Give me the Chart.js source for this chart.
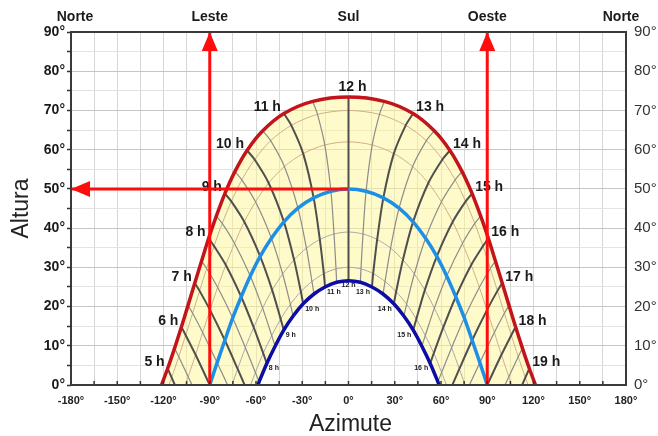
<!DOCTYPE html>
<html>
<head>
<meta charset="utf-8">
<script src="https://cdn.jsdelivr.net/npm/chart.js@4.4.1/dist/chart.umd.min.js"></script>
<style>
html, body { margin: 0; padding: 0; background: #fff; }
</style>
</head>
<body>
<canvas id="sunChart" width="658" height="436"></canvas>
<script>
// Horas de meia em meia hora (5 h a 19 h)
const hours = [5, 5.5, 6, 6.5, 7, 7.5, 8, 8.5, 9, 9.5, 10, 10.5, 11, 11.5, 12,
    12.5, 13, 13.5, 14, 14.5, 15, 15.5, 16, 16.5, 17, 17.5, 18, 18.5, 19];

// Azimute / altura do sol em cada hora, dia 21 de cada mes
const junAz = [-117.3, -112.8, -108.4, -104.1, -99.7, -95.3, -90.7, -85.7, -80.2, -73.7, -65.8, -55.6, -41.9, -23.2, 0,
    23.2, 41.9, 55.6, 65.8, 73.7, 80.2, 85.7, 90.7, 95.3, 99.7, 104.1, 108.4, 112.8, 117.3];
const junAlt = [4.2, 9.4, 14.8, 20.3, 26.0, 31.6, 37.4, 43.1, 48.8, 54.4, 59.8, 64.8, 69.2, 72.3, 73.4,
    72.3, 69.2, 64.8, 59.8, 54.4, 48.8, 43.1, 37.4, 31.6, 26.0, 20.3, 14.8, 9.4, 4.2];

const maiAz = [-114.7, -110.1, -105.6, -101.1, -96.6, -92.0, -87.2, -81.9, -76.0, -69.2, -60.9, -50.5, -37.1, -20.1, 0,
    20.1, 37.1, 50.5, 60.9, 69.2, 76.0, 81.9, 87.2, 92.0, 96.6, 101.1, 105.6, 110.1, 114.7];
const maiAlt = [1.9, 7.2, 12.7, 18.3, 24.0, 29.7, 35.4, 41.2, 46.8, 52.3, 57.5, 62.3, 66.2, 69.0, 70.0,
    69.0, 66.2, 62.3, 57.5, 52.3, 46.8, 41.2, 35.4, 29.7, 24.0, 18.3, 12.7, 7.2, 1.9];

const abrAz = [-108.8, -104.0, -99.2, -94.6, -89.8, -84.9, -79.6, -73.9, -67.6, -60.3, -51.8, -41.6, -29.4, -15.4, 0,
    15.4, 29.4, 41.6, 51.8, 60.3, 67.6, 73.9, 79.6, 84.9, 89.8, 94.6, 99.2, 104.0, 108.8];
const abrAlt = [-3.5, 2.1, 7.7, 13.4, 19.1, 24.9, 30.6, 36.1, 41.6, 46.7, 51.5, 55.7, 59.0, 61.2, 62.0,
    61.2, 59.0, 55.7, 51.5, 46.7, 41.6, 36.1, 30.6, 24.9, 19.1, 13.4, 7.7, 2.1, -3.5];

const marAz = [null, -94.8, -90.0, -85.2, -80.2, -75.1, -69.6, -63.7, -57.3, -50.0, -41.9, -32.8, -22.6, -11.4, 0,
    11.4, 22.6, 32.8, 41.9, 50.0, 57.3, 63.7, 69.6, 75.1, 80.2, 85.2, 90.0, 94.8, null];
const marAlt = [null, -5.7, 0.0, 5.7, 11.4, 17.1, 22.5, 27.8, 32.8, 37.4, 41.6, 45.1, 47.7, 49.4, 50.0,
    49.4, 47.7, 45.1, 41.6, 37.4, 32.8, 27.8, 22.5, 17.1, 11.4, 5.7, 0.0, -5.7, null];

const fevAz = [null, null, null, -76.8, -71.9, -66.9, -61.5, -55.7, -49.5, -42.7, -35.3, -27.3, -18.6, -9.4, 0,
    9.4, 18.6, 27.3, 35.3, 42.7, 49.5, 55.7, 61.5, 66.9, 71.9, 76.8, null, null, null];
const fevAlt = [null, null, null, -1.4, 4.1, 9.5, 14.7, 19.6, 24.2, 28.3, 31.9, 34.9, 37.1, 38.5, 39.0,
    38.5, 37.1, 34.9, 31.9, 28.3, 24.2, 19.6, 14.7, 9.5, 4.1, -1.4, null, null, null];

const janAz = [null, null, null, null, -65.3, -60.4, -55.3, -49.8, -44.0, -37.7, -30.9, -23.7, -16.0, -8.1, 0,
    8.1, 16.0, 23.7, 30.9, 37.7, 44.0, 49.8, 55.3, 60.4, 65.3, null, null, null, null];
const janAlt = [null, null, null, null, -1.9, 3.2, 8.1, 12.6, 16.8, 20.6, 23.8, 26.4, 28.4, 29.6, 30.0,
    29.6, 28.4, 26.4, 23.8, 20.6, 16.8, 12.6, 8.1, 3.2, -1.9, null, null, null, null];

const dezAz = [null, null, null, null, null, -58.0, -53.0, -47.6, -42.0, -35.9, -29.4, -22.4, -15.2, -7.7, 0,
    7.7, 15.2, 22.4, 29.4, 35.9, 42.0, 47.6, 53.0, 58.0, null, null, null, null, null];
const dezAlt = [null, null, null, null, null, 0.8, 5.5, 9.9, 14.0, 17.6, 20.7, 23.2, 25.0, 26.2, 26.6,
    26.2, 25.0, 23.2, 20.7, 17.6, 14.0, 9.9, 5.5, 0.8, null, null, null, null, null];

// Nascer / por do sol (altura 0)
const riseAz = [-121.3, -116.5, -105.7, -90.0, -75.6, -63.5, -58.7];
const setAz = [121.3, 116.5, 105.7, 90.0, 75.6, 63.5, 58.7];

const cardinalAz = [-180, -90, 0, 90, 180];
const cardinalNames = ['Norte', 'Leste', 'Sul', 'Oeste', 'Norte'];

const arrowFrom = [[-90, 0], [90, 0], [0, 50]];
const arrowTo = [[-90, 90], [90, 90], [-180, 50]];

const dateSeries = [[junAz, junAlt], [maiAz, maiAlt], [abrAz, abrAlt], [marAz, marAlt],
    [fevAz, fevAlt], [janAz, janAlt], [dezAz, dezAlt]];
const dateStyles = [
    { color: '#c3141b', width: 3.5, order: 1 },
    { color: '#cdb08c', width: 1, order: 4 },
    { color: '#cdb08c', width: 1, order: 4 },
    { color: '#1e8fe6', width: 3.5, order: 1 },
    { color: '#a9a9a9', width: 1, order: 4 },
    { color: '#a9a9a9', width: 1, order: 4 },
    { color: '#0c0ca6', width: 3.5, order: 1 }
];

const FONT = 'Arial, "Liberation Sans", sans-serif';

function datePath(k) {
    const az = dateSeries[k][0], alt = dateSeries[k][1];
    const pts = [{ x: riseAz[k], y: 0 }];
    hours.forEach((h, i) => {
        if (alt[i] !== null && alt[i] > 0) pts.push({ x: az[i], y: alt[i] });
    });
    pts.push({ x: setAz[k], y: 0 });
    return pts;
}

function hourPath(i) {
    const pts = [];
    dateSeries.forEach(([az, alt]) => {
        if (az[i] !== null) pts.push({ x: az[i], y: alt[i] });
    });
    return pts;
}

const datasets = [];

// curvas das datas
dateSeries.forEach((s, k) => {
    datasets.push({
        data: datePath(k),
        borderColor: dateStyles[k].color,
        borderWidth: dateStyles[k].width,
        backgroundColor: 'rgba(255, 246, 150, 0.5)',
        order: dateStyles[k].order,
        tension: 0.3,
        fill: false
    });
});

// linhas das horas
hours.forEach((h, i) => {
    const pts = hourPath(i);
    if (pts.length < 2) return;
    const full = Number.isInteger(h);
    datasets.push({
        data: pts,
        borderColor: full ? '#4f4f4f' : '#8c8c8c',
        borderWidth: full ? 2 : 1.2,
        order: full ? 2 : 3,
        tension: 0.3,
        clip: 0,
        fill: false
    });
});

// setas vermelhas
arrowFrom.forEach((a, i) => {
    datasets.push({
        data: [{ x: a[0], y: a[1] }, { x: arrowTo[i][0], y: arrowTo[i][1] }],
        borderColor: '#ff0d0d',
        borderWidth: 3,
        order: 0,
        tension: 0,
        fill: false
    });
});

// limite inferior da area amarela (dezembro + horizonte)
const dezPts = datePath(6);
datasets.push({
    data: [{ x: riseAz[0], y: 0 }, ...dezPts, { x: setAz[0], y: 0 }],
    borderColor: 'transparent',
    borderWidth: 0,
    order: 5,
    fill: false
});
datasets[0].fill = { target: datasets.length - 1 };

function arrowHead(ctx, x0, y0, x1, y1) {
    const ang = Math.atan2(y1 - y0, x1 - x0);
    const len = 19, half = 8;
    const c = Math.cos(ang), s = Math.sin(ang);
    ctx.beginPath();
    ctx.moveTo(x1, y1);
    ctx.lineTo(x1 - len * c + half * s, y1 - len * s - half * c);
    ctx.lineTo(x1 - len * c - half * s, y1 - len * s + half * c);
    ctx.closePath();
    ctx.fill();
}

const sunPlugin = {
    id: 'sunPath',
    beforeDatasetsDraw(chart) {
        const ctx = chart.ctx, xs = chart.scales.x, ys = chart.scales.y;
        ctx.save();
        ctx.fillStyle = '#1a1a1a';
        ctx.textBaseline = 'middle';
        hours.forEach((h, i) => {
            if (!Number.isInteger(h)) return;
            // rotulos sobre a curva de junho
            const px = xs.getPixelForValue(junAz[i]);
            const py = ys.getPixelForValue(junAlt[i]);
            ctx.font = 'bold 14px ' + FONT;
            if (h < 12) { ctx.textAlign = 'right'; ctx.fillText(h + ' h', px - 3, py - 6); }
            else if (h > 12) { ctx.textAlign = 'left'; ctx.fillText(h + ' h', px + 3, py - 6); }
            else { ctx.textAlign = 'center'; ctx.fillText(h + ' h', px + 4, py - 10); }
            // rotulos sob a curva de dezembro
            if (dezAlt[i] !== null && dezAlt[i] > 3) {
                const qx = xs.getPixelForValue(dezAz[i]);
                const qy = ys.getPixelForValue(dezAlt[i]);
                ctx.font = 'bold 7px ' + FONT;
                if (h < 12) { ctx.textAlign = 'left'; ctx.fillText(h + ' h', qx + 2, qy + 5); }
                else if (h > 12) { ctx.textAlign = 'right'; ctx.fillText(h + ' h', qx - 2, qy + 5); }
                else { ctx.textAlign = 'center'; ctx.fillText(h + ' h', qx, qy + 4); }
            }
        });
        ctx.restore();
    },
    afterDatasetsDraw(chart) {
        const ctx = chart.ctx, a = chart.chartArea, xs = chart.scales.x, ys = chart.scales.y;
        ctx.save();
        // marcas do eixo x (para dentro)
        ctx.strokeStyle = '#333';
        ctx.lineWidth = 1.5;
        xs.ticks.forEach(t => {
            const px = xs.getPixelForValue(t.value);
            ctx.beginPath();
            ctx.moveTo(px, a.bottom);
            ctx.lineTo(px, a.bottom - 4);
            ctx.stroke();
        });
        // moldura
        ctx.strokeStyle = '#3a3a3a';
        ctx.lineWidth = 2;
        ctx.strokeRect(a.left, a.top, a.right - a.left, a.bottom - a.top);
        // pontas das setas
        ctx.fillStyle = '#ff0d0d';
        arrowFrom.forEach((f, i) => {
            arrowHead(ctx,
                xs.getPixelForValue(f[0]), ys.getPixelForValue(f[1]),
                xs.getPixelForValue(arrowTo[i][0]), ys.getPixelForValue(arrowTo[i][1]));
        });
        ctx.restore();
    },
    afterDraw(chart) {
        const ctx = chart.ctx, a = chart.chartArea, xs = chart.scales.x;
        ctx.save();
        ctx.fillStyle = '#1a1a1a';
        ctx.textAlign = 'center';
        ctx.textBaseline = 'middle';
        ctx.font = 'bold 14px ' + FONT;
        cardinalAz.forEach((v, i) => {
            let px = xs.getPixelForValue(v);
            if (i === 0) px += 4;
            if (i === cardinalAz.length - 1) px -= 5;
            ctx.fillText(cardinalNames[i], px, 17);
        });
        ctx.fillStyle = '#222';
        ctx.font = '23px ' + FONT;
        ctx.fillText('Azimute', (a.left + a.right) / 2 + 2, 425);
        ctx.translate(22, (a.top + a.bottom) / 2);
        ctx.rotate(-Math.PI / 2);
        ctx.fillText('Altura', 0, 0);
        ctx.restore();
    }
};

new Chart(document.getElementById('sunChart'), {
    type: 'line',
    data: { datasets: datasets },
    options: {
        responsive: false,
        animation: false,
        layout: { padding: { top: 32, left: 0, right: 0, bottom: 0 } },
        elements: { point: { radius: 0 } },
        plugins: {
            legend: { display: false },
            tooltip: { enabled: false },
            filler: { drawTime: 'beforeDatasetsDraw' }
        },
        scales: {
            x: {
                type: 'linear',
                min: -180,
                max: 180,
                ticks: {
                    stepSize: 15,
                    autoSkip: false,
                    maxRotation: 0,
                    padding: 9,
                    color: '#222',
                    font: { family: FONT, size: 11, weight: 'bold' },
                    callback: v => (v % 30 === 0 ? v + '°' : '')
                },
                grid: { color: '#d6d6d6', drawTicks: false },
                border: { display: false },
                afterFit: s => { s.height = 51; }
            },
            y: {
                type: 'linear',
                position: 'left',
                min: 0,
                max: 90,
                ticks: {
                    stepSize: 5,
                    autoSkip: false,
                    padding: 2,
                    color: '#1a1a1a',
                    font: { family: FONT, size: 14, weight: 'bold' },
                    callback: v => (v % 10 === 0 ? v + '°' : '')
                },
                grid: {
                    color: c => (c.tick && c.tick.value % 10 === 0 ? '#c6c6c6' : '#e3e3e3'),
                    tickColor: '#333',
                    tickLength: 4,
                    tickWidth: 1.5
                },
                border: { display: false },
                afterFit: s => { s.width = 71; }
            },
            y2: {
                type: 'linear',
                position: 'right',
                min: 0,
                max: 90,
                ticks: {
                    stepSize: 10,
                    padding: 8,
                    color: '#333',
                    font: { family: FONT, size: 15 },
                    callback: v => v + '°'
                },
                grid: { drawOnChartArea: false, drawTicks: false },
                border: { display: false },
                afterFit: s => { s.width = 32; }
            }
        }
    },
    plugins: [sunPlugin]
});
</script>
</body>
</html>
